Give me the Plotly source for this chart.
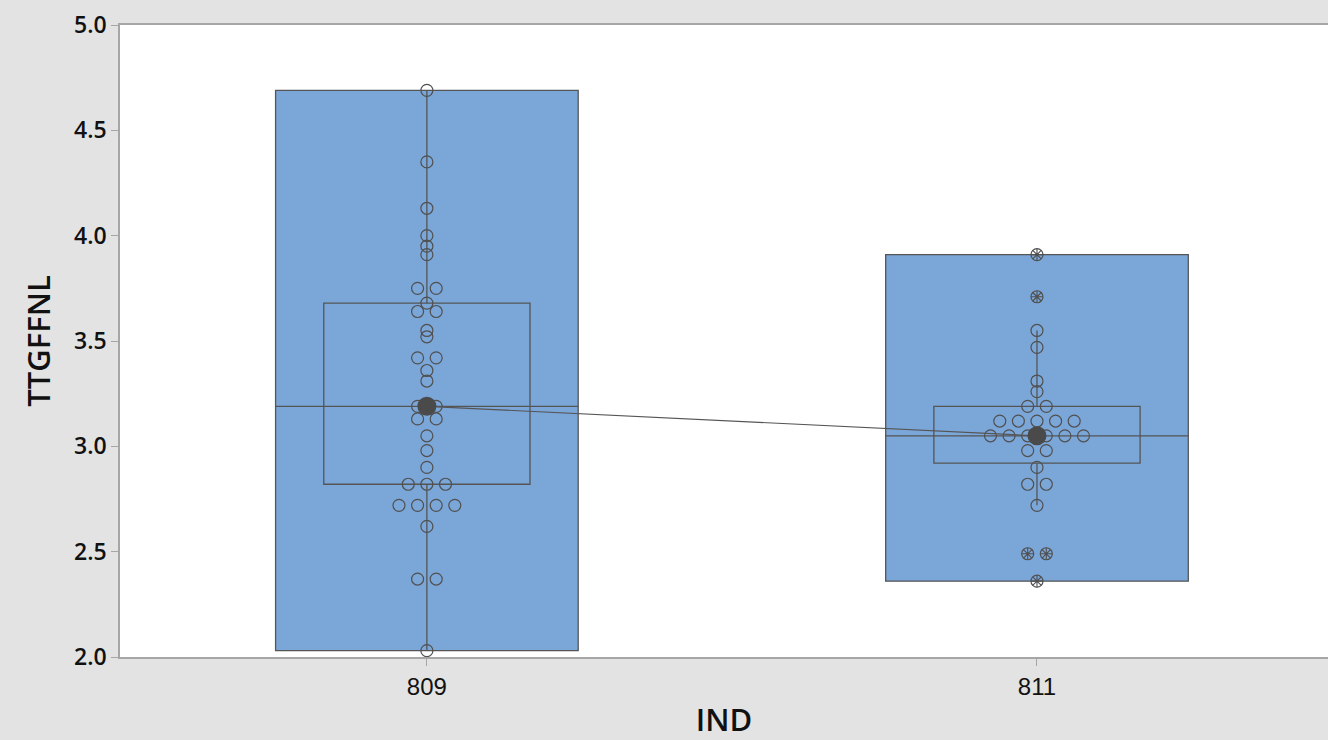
import numpy as np
import plotly.graph_objects as go

# ---- data -------------------------------------------------------------
groups = ["809", "811"]

ttgffnl_809 = [4.69, 4.35, 4.13, 4.00, 3.95, 3.91, 3.75, 3.75, 3.68, 3.64,
               3.64, 3.55, 3.52, 3.42, 3.42, 3.36, 3.31, 3.19, 3.19, 3.13,
               3.13, 3.05, 2.98, 2.90, 2.82, 2.82, 2.82, 2.72, 2.72, 2.72,
               2.72, 2.62, 2.37, 2.37, 2.03]

ttgffnl_811 = [3.91, 3.71, 3.55, 3.47, 3.31, 3.26, 3.19, 3.19,
               3.12, 3.12, 3.12, 3.12, 3.12,
               3.05, 3.05, 3.05, 3.05, 3.05, 3.05,
               2.98, 2.98, 2.90, 2.82, 2.82, 2.72, 2.49, 2.49, 2.36]

y_ticks = [2.0, 2.5, 3.0, 3.5, 4.0, 4.5, 5.0]

# ---- styling ----------------------------------------------------------
BOX_FILL = "#7BA6D8"
EDGE = "#555555"
POINT = "#505050"
AXIS = "#a6a6a6"
TEXT = "#111111"

RANGE_HALF = 0.248     # half-width of the min-max range box
IQR_HALF = 0.169       # half-width of the interquartile box
STEP = 0.0305          # horizontal spacing between tied points

fig = go.Figure()
shapes = []
medians = []

for gi, values in enumerate([ttgffnl_809, ttgffnl_811]):
    v = np.array(values, dtype=float)
    q1 = np.quantile(v, 0.25, method="weibull")
    q3 = np.quantile(v, 0.75, method="weibull")
    med = float(np.median(v))
    medians.append(med)
    iqr = q3 - q1
    lo_fence, hi_fence = q1 - 1.5 * iqr, q3 + 1.5 * iqr
    inside = v[(v >= lo_fence) & (v <= hi_fence)]
    w_lo, w_hi = inside.min(), inside.max()

    # range box (min to max)
    shapes.append(dict(type="rect", xref="x", yref="y", layer="below",
                       x0=gi - RANGE_HALF, x1=gi + RANGE_HALF,
                       y0=v.min(), y1=v.max(),
                       fillcolor=BOX_FILL, line=dict(color=EDGE, width=1.3)))
    # interquartile box
    shapes.append(dict(type="rect", xref="x", yref="y", layer="below",
                       x0=gi - IQR_HALF, x1=gi + IQR_HALF, y0=q1, y1=q3,
                       fillcolor="rgba(0,0,0,0)",
                       line=dict(color=EDGE, width=1.3)))
    # median line across the range box
    shapes.append(dict(type="line", xref="x", yref="y", layer="below",
                       x0=gi - RANGE_HALF, x1=gi + RANGE_HALF, y0=med, y1=med,
                       line=dict(color=EDGE, width=1.3)))
    # whiskers
    shapes.append(dict(type="line", xref="x", yref="y", layer="below",
                       x0=gi, x1=gi, y0=q3, y1=w_hi,
                       line=dict(color=EDGE, width=1.3)))
    shapes.append(dict(type="line", xref="x", yref="y", layer="below",
                       x0=gi, x1=gi, y0=w_lo, y1=q1,
                       line=dict(color=EDGE, width=1.3)))

    # individual values, ties spread side by side
    xs, ys = [], []
    uniq, counts = np.unique(v, return_counts=True)
    for val, k in zip(uniq, counts):
        offs = (np.arange(k) - (k - 1) / 2.0) * STEP
        xs.extend(gi + offs)
        ys.extend([val] * k)
    xs, ys = np.array(xs), np.array(ys)
    fig.add_trace(go.Scatter(
        x=xs, y=ys, mode="markers", showlegend=False, hoverinfo="y",
        marker=dict(symbol="circle-open", size=12, color=POINT,
                    line=dict(width=1.2, color=POINT))))

    # outliers also get the asterisk symbol
    out_mask = (ys < lo_fence) | (ys > hi_fence)
    if out_mask.any():
        fig.add_trace(go.Scatter(
            x=xs[out_mask], y=ys[out_mask], mode="markers",
            showlegend=False, hoverinfo="skip",
            marker=dict(symbol="asterisk-open", size=10, color=POINT,
                        line=dict(width=1.1, color=POINT))))

# median connect line and median symbols
fig.add_trace(go.Scatter(
    x=[0, 1], y=medians, mode="lines+markers", showlegend=False,
    line=dict(color=EDGE, width=1.2),
    marker=dict(symbol="circle", size=19, color="#4a4a4a")))

fig.update_layout(
    width=1328, height=740,
    margin=dict(l=120, r=0, t=25, b=83),
    paper_bgcolor="#e3e3e3", plot_bgcolor="#ffffff",
    shapes=shapes,
    xaxis=dict(range=[-0.503, 1.477], tickvals=[0, 1], ticktext=groups,
               showgrid=False, zeroline=False, showline=True, mirror=True,
               linecolor=AXIS, linewidth=1.5, ticks="outside", ticklen=7,
               tickcolor=AXIS,
               tickfont=dict(family="Liberation Sans Narrow, Arial Narrow, sans-serif",
                             size=24, color=TEXT),
               title=dict(text="IND", standoff=14,
                          font=dict(family="Open Sans, sans-serif", size=31,
                                    color=TEXT, weight=600))),
    yaxis=dict(range=[2, 5], tickvals=y_ticks,
               ticktext=[f"{t:.1f}" for t in y_ticks],
               showgrid=False, zeroline=False, showline=True,
               linecolor=AXIS, linewidth=1.5, ticks="outside", ticklen=7,
               tickcolor=AXIS,
               tickfont=dict(family="Open Sans, sans-serif", size=23,
                             color=TEXT, weight=600),
               title=dict(text="TTGFFNL", standoff=14,
                          font=dict(family="Open Sans, sans-serif", size=31,
                                    color=TEXT, weight=600))),
)

fig.write_html("out.html")
